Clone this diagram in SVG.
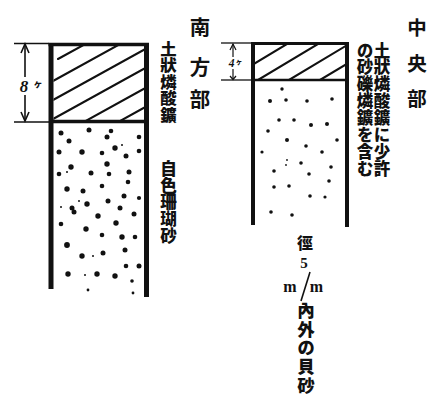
<svg xmlns="http://www.w3.org/2000/svg" width="442" height="404" viewBox="0 0 442 404">
  <style>
    .wall { fill: #111; }
    .edge { stroke: #111; stroke-width: 3.5; fill: none; }
    .hatch { stroke: #111; stroke-width: 2.1; fill: none; stroke-linecap: round; }
    .dim { stroke: #111; stroke-width: 1.6; fill: none; }
    .dot { fill: #111; }
    .jp { font-family: "Noto Sans CJK JP", "Noto Sans CJK SC", sans-serif; font-weight: 900; fill: #111; text-anchor: middle; dominant-baseline: central; }
    .vt { font-family: "Noto Sans CJK JP", "Noto Sans CJK SC", sans-serif; font-weight: 900; fill: #111; writing-mode: vertical-rl; text-anchor: start; }
    .title { font-size: 20.5px; font-weight: 700; }
    .num { font-family: "Liberation Serif", serif; font-weight: 700; fill: #111; text-anchor: middle; }
  </style>
  <defs>
    <clipPath id="clipSouth"><rect x="53.5" y="45" width="90.5" height="76"/></clipPath>
    <clipPath id="clipCentral"><rect x="255" y="44.5" width="90" height="35"/></clipPath>
  </defs>
  <rect width="442" height="404" fill="#fff"/>

  <!-- South section column -->
  <g id="south-column">
    <rect class="wall" x="48.5" y="43" width="5" height="246"/>
    <rect class="wall" x="144" y="43" width="5" height="254"/>
    <line class="edge" x1="48.5" y1="44.5" x2="149" y2="44.5"/>
    <line class="edge" x1="53" y1="121.5" x2="144" y2="121.5"/>
    <g clip-path="url(#clipSouth)">
      <line class="hatch" x1="58" y1="59" x2="160" y2="3"/>
      <line class="hatch" x1="53" y1="81" x2="160" y2="22"/>
      <line class="hatch" x1="53" y1="100" x2="160" y2="41"/>
      <line class="hatch" x1="53" y1="119" x2="160" y2="60"/>
      <line class="hatch" x1="53" y1="139" x2="160" y2="80"/>
      <line class="hatch" x1="53" y1="158" x2="160" y2="99"/>
    </g>
    <g class="dot">
      <circle cx="61" cy="133" r="2.5"/><circle cx="89" cy="130" r="2.5"/><circle cx="69" cy="141" r="2.5"/>
      <circle cx="107" cy="137" r="2.5"/><circle cx="111" cy="131" r="2.3"/><circle cx="139" cy="137" r="2.3"/>
      <circle cx="59" cy="152" r="2.5"/><circle cx="82" cy="152" r="2.7"/><circle cx="102" cy="153" r="2.3"/>
      <circle cx="115" cy="148" r="2.7"/><circle cx="126" cy="156" r="2.5"/><circle cx="139" cy="151" r="2.3"/>
      <circle cx="71" cy="167" r="2.7"/><circle cx="107" cy="164" r="2.7"/><circle cx="59" cy="174" r="2.3"/>
      <circle cx="91" cy="173" r="2.5"/><circle cx="109" cy="174" r="2.3"/><circle cx="129" cy="172" r="2.5"/>
      <circle cx="128" cy="182" r="2.3"/><circle cx="67" cy="189" r="2.7"/><circle cx="102" cy="186" r="2.3"/>
      <circle cx="83" cy="191" r="2.5"/><circle cx="124" cy="196" r="2.5"/><circle cx="87" cy="204" r="2.7"/>
      <circle cx="108" cy="201" r="2.5"/><circle cx="139" cy="198" r="2.1"/><circle cx="72" cy="208" r="2.5"/>
      <circle cx="74" cy="212" r="2.5"/><circle cx="120" cy="208" r="2.5"/><circle cx="98" cy="216" r="2.7"/>
      <circle cx="134" cy="214" r="2.5"/><circle cx="61" cy="224" r="2.3"/><circle cx="116" cy="223" r="2.7"/>
      <circle cx="86" cy="229" r="2.7"/><circle cx="102" cy="235" r="2.3"/><circle cx="122" cy="237" r="2.7"/>
      <circle cx="135" cy="237" r="2.3"/><circle cx="67" cy="245" r="2.9"/><circle cx="125" cy="250" r="2.5"/>
      <circle cx="82" cy="256" r="2.7"/><circle cx="103" cy="253" r="2.5"/><circle cx="126" cy="266" r="2.3"/>
      <circle cx="139" cy="266" r="2.5"/><circle cx="68" cy="274" r="2.7"/><circle cx="97" cy="274" r="2.7"/>
      <circle cx="115" cy="276" r="2.7"/><circle cx="132" cy="281" r="1.8"/><circle cx="88" cy="290" r="1.4"/>
      <circle cx="133" cy="293" r="1.4"/><circle cx="85" cy="275" r="1"/><circle cx="93" cy="256" r="1"/>
      <circle cx="79" cy="201" r="1"/><circle cx="67" cy="172" r="1"/><circle cx="61" cy="207" r="1"/>
      <circle cx="122" cy="145" r="1"/>
    </g>
  </g>

  <!-- Central section column -->
  <g id="central-column">
    <rect class="wall" x="251" y="43" width="4" height="182"/>
    <rect class="wall" x="345" y="43" width="4" height="184"/>
    <line class="edge" x1="251" y1="43.5" x2="349" y2="43.5" style="stroke-width:3"/>
    <line class="edge" x1="255" y1="80" x2="345" y2="80" style="stroke-width:2.5"/>
    <g clip-path="url(#clipCentral)">
      <line class="hatch" x1="227" y1="80" x2="327" y2="20"/>
      <line class="hatch" x1="258" y1="80" x2="358" y2="20"/>
      <line class="hatch" x1="289" y1="80" x2="389" y2="20"/>
      <line class="hatch" x1="320" y1="80" x2="420" y2="20"/>
    </g>
    <g class="dot">
      <circle cx="282" cy="89" r="1.7"/><circle cx="270" cy="101" r="2"/><circle cx="286" cy="100" r="1.8"/>
      <circle cx="307" cy="101" r="1.8"/><circle cx="332" cy="99" r="1.8"/><circle cx="279" cy="120" r="1.8"/>
      <circle cx="294" cy="120" r="1.8"/><circle cx="311" cy="125" r="2"/><circle cx="327" cy="124" r="2"/>
      <circle cx="268" cy="131" r="1.8"/><circle cx="287" cy="140" r="2"/><circle cx="337" cy="140" r="1.8"/>
      <circle cx="306" cy="146" r="1.8"/><circle cx="262" cy="152" r="1.6"/><circle cx="322" cy="152" r="1.8"/>
      <circle cx="301" cy="163" r="1.8"/><circle cx="287" cy="160" r="0.9"/><circle cx="286" cy="165" r="0.9"/>
      <circle cx="331" cy="167" r="1.8"/><circle cx="274" cy="171" r="1.8"/><circle cx="309" cy="174" r="1.8"/>
      <circle cx="329" cy="181" r="1.8"/><circle cx="274" cy="187" r="1.8"/><circle cx="289" cy="186" r="1.8"/>
      <circle cx="310" cy="196" r="1.8"/><circle cx="325" cy="197" r="1.6"/><circle cx="271" cy="212" r="1.8"/>
      <circle cx="292" cy="215" r="1.8"/>
    </g>
  </g>

  <!-- Thickness dimension lines -->
  <g id="dimensions">
    <line class="dim" x1="14" y1="43.5" x2="49" y2="43.5"/>
    <line class="dim" x1="14" y1="122" x2="49" y2="122"/>
    <line class="dim" x1="25" y1="44" x2="25" y2="77"/>
    <line class="dim" x1="25" y1="95" x2="25" y2="121"/>
    <polyline class="dim" points="21,53 25,44 29,53"/>
    <polyline class="dim" points="21,112 25,121 29,112"/>

    <line class="dim" x1="221" y1="43" x2="252" y2="43" style="stroke-width:1.3"/>
    <line class="dim" x1="221" y1="80" x2="252" y2="80" style="stroke-width:1.3"/>
    <line class="dim" x1="233" y1="44" x2="233" y2="57" style="stroke-width:1.2"/>
    <line class="dim" x1="233" y1="69" x2="233" y2="79" style="stroke-width:1.2"/>
    <polyline class="dim" points="230,50 233,44 236,50" style="stroke-width:1.2"/>
    <polyline class="dim" points="230,76 233,79.5 236,76" style="stroke-width:1.2"/>
  </g>

  <!-- Thickness labels -->
  <g id="label-8">
    <text class="num" x="24" y="92" font-size="17" font-style="italic">8</text>
    <text class="jp" x="38" y="83" font-size="9">ヶ</text>
  </g>
  <g id="label-4">
    <text class="num" x="231.5" y="67" font-size="11.5" font-style="italic">4</text>
    <text class="jp" x="239" y="61" font-size="6.5">ヶ</text>
  </g>

  <!-- Section titles -->
  <g id="title-south" class="jp title">
    <text x="200" y="26">南</text>
    <text x="200" y="66">方</text>
    <text x="200" y="97.5">部</text>
  </g>
  <g id="title-central" class="jp title" style="font-size:19.5px">
    <text x="417" y="26">中</text>
    <text x="417" y="62">央</text>
    <text x="417" y="97">部</text>
  </g>

  <!-- South layer labels -->
  <text id="south-top-label" class="vt" x="168.5" y="40.5" font-size="16.4">土狀燐酸鑛</text>
  <text id="south-bottom-label" class="vt" x="168.5" y="160.5" font-size="16.6">自色珊瑚砂</text>

  <!-- Central layer labels -->
  <g id="central-top-label">
    <text class="vt" x="382" y="42" font-size="16.5" letter-spacing="0.4">土狀燐酸鑛に少許</text>
    <text class="vt" x="365" y="42" font-size="16.5" letter-spacing="0.4">の砂礫燐鑛を含む</text>
  </g>
  <g id="central-bottom-label">
    <text class="jp" x="305" y="241.5" font-size="16">徑</text>
    <text class="num" x="304" y="267.5" font-size="15">5</text>
    <text class="num" x="290" y="292" font-size="16">m</text>
    <line x1="310" y1="272" x2="301" y2="301" stroke="#111" stroke-width="1.6"/>
    <text class="num" x="316.5" y="292" font-size="16">m</text>
    <text class="vt" x="306" y="301.5" font-size="17.5" letter-spacing="1.2">內外の貝砂</text>
  </g>
</svg>
